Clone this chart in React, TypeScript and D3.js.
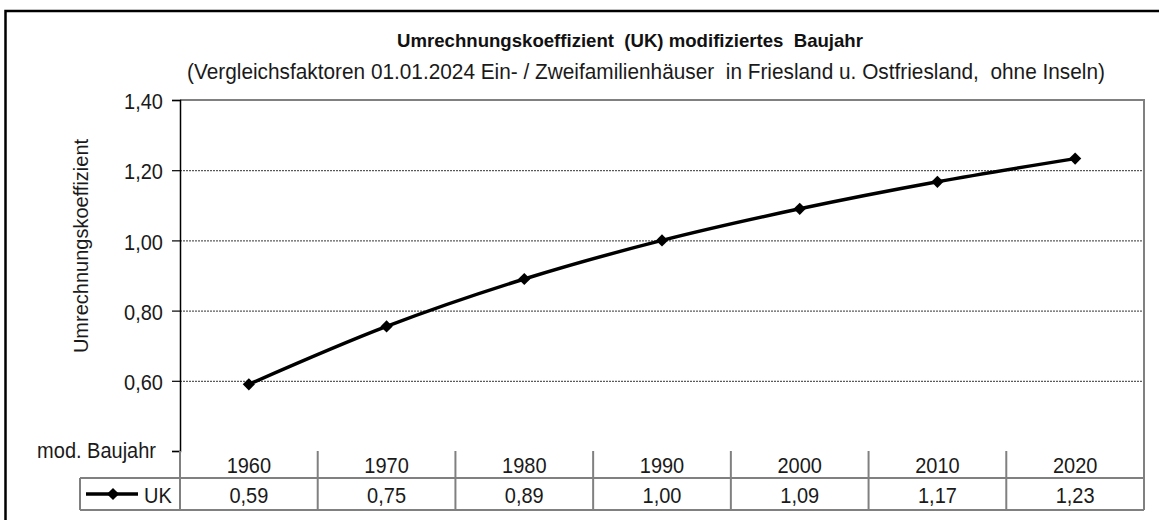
import React, { useEffect, useRef } from "react";
import * as d3 from "d3";

const years = ["1960", "1970", "1980", "1990", "2000", "2010", "2020"];
const ukValues = [0.59, 0.755, 0.89, 1.0, 1.09, 1.167, 1.233];
const ukLabels = ["0,59", "0,75", "0,89", "1,00", "1,09", "1,17", "1,23"];
const yTicks = [0.6, 0.8, 1.0, 1.2, 1.4];

const title = "Umrechnungskoeffizient  (UK) modifiziertes  Baujahr";
const subtitle =
  "(Vergleichsfaktoren 01.01.2024 Ein- / Zweifamilienhäuser  in Friesland u. Ostfriesland,  ohne Inseln)";

const App = () => {
  const ref = useRef<SVGSVGElement>(null);

  useEffect(() => {
    const width = 1159;
    const height = 520;
    const margin = { top: 100, right: 15, bottom: 69, left: 180 };
    const rowH = [27, 32];
    const font = "'Liberation Sans', Arial, sans-serif";
    const grey = "#808080";
    const ink = "#1a1a1a";
    const fs = 20;
    const stretch = 1.09;

    const svg = d3.select(ref.current);
    svg.selectAll("*").remove();

    svg.append("rect")
      .attr("width", width)
      .attr("height", height)
      .attr("fill", "#fff");

    // outer frame
    svg.append("rect")
      .attr("x", 5.5)
      .attr("y", 11)
      .attr("width", width + 10)
      .attr("height", height + 10)
      .attr("fill", "none")
      .attr("stroke", "#000")
      .attr("stroke-width", 2.5);

    const x = d3
      .scaleBand()
      .domain(years)
      .range([margin.left, width - margin.right]);

    const y = d3
      .scaleLinear()
      .domain([0.4, 1.4])
      .range([height - margin.bottom, margin.top]);

    // titles
    svg.append("text")
      .attr("x", 630)
      .attr("y", 47)
      .attr("text-anchor", "middle")
      .attr("font-family", font)
      .attr("font-size", 18.6)
      .attr("font-weight", "bold")
      .attr("fill", "#111")
      .style("white-space", "pre")
      .text(title);

    svg.append("text")
      .attr("transform", `translate(646,79) scale(1,1.03)`)
      .attr("text-anchor", "middle")
      .attr("font-family", font)
      .attr("font-size", 20.8)
      .attr("fill", ink)
      .style("white-space", "pre")
      .text(subtitle);

    // grid lines
    svg.append("g")
      .selectAll("line")
      .data(yTicks.filter((d) => d < 1.4))
      .join("line")
      .attr("x1", margin.left)
      .attr("x2", width - margin.right)
      .attr("y1", (d) => y(d) + 0.5)
      .attr("y2", (d) => y(d) + 0.5)
      .attr("stroke", "#333")
      .attr("stroke-dasharray", "2,1");

    // plot frame top / right
    svg.append("path")
      .attr(
        "d",
        `M${margin.left},${y(1.4)}H${width - margin.right}V${y(0.4)}`
      )
      .attr("fill", "none")
      .attr("stroke", grey)
      .attr("stroke-width", 2);

    // y axis
    const yAxis = svg.append("g")
      .attr("transform", `translate(${margin.left},0)`)
      .call(
        d3.axisLeft(y)
          .tickValues([0.4, ...yTicks])
          .tickSize(8)
          .tickPadding(9)
          .tickFormat((d) =>
            +d === 0.4 ? "mod. Baujahr" : d3.format(".2f")(+d).replace(".", ",")
          )
      );
    yAxis.select(".domain").attr("stroke", "#000").attr("stroke-width", 1.5);
    yAxis.selectAll(".tick line").attr("stroke", "#000").attr("stroke-width", 1.2);
    yAxis.selectAll<SVGTextElement, number>("text")
      .attr("font-family", font)
      .attr("font-size", fs)
      .attr("dy", (d) => (d === 0.4 ? "0.3em" : "0.4em"))
      .attr("x", (d) => (d === 0.4 ? -24 : -17))
      .attr("transform", `scale(1,${stretch})`)
      .attr("fill", ink);

    svg.append("text")
      .attr("transform", `translate(88,246) rotate(-90)`)
      .attr("text-anchor", "middle")
      .attr("font-family", font)
      .attr("font-size", 20)
      .attr("fill", ink)
      .text("Umrechnungskoeffizient");

    // data table
    const t0 = y(0.4);
    const t1 = t0 + rowH[0];
    const t2 = t1 + rowH[1];
    const table = svg.append("g")
      .attr("fill", "none")
      .attr("stroke", grey)
      .attr("stroke-width", 2);
    table.append("path").attr(
      "d",
      `M80,${t1}H${width - margin.right}M80,${t2}H${width - margin.right}M80,${t1}V${t2}`
    );
    table.selectAll("line")
      .data([...years.map((d) => x(d)!), width - margin.right])
      .join("line")
      .attr("x1", (d) => d)
      .attr("x2", (d) => d)
      .attr("y1", t0)
      .attr("y2", t2);

    svg.append("g")
      .selectAll("text")
      .data(years)
      .join("text")
      .attr(
        "transform",
        (d) => `translate(${x(d)! + x.bandwidth() / 2},${t0 + 21.5}) scale(1,${stretch})`
      )
      .attr("text-anchor", "middle")
      .attr("font-family", font)
      .attr("font-size", fs)
      .attr("fill", ink)
      .text((d) => d);

    svg.append("g")
      .selectAll("text")
      .data(ukLabels)
      .join("text")
      .attr(
        "transform",
        (d, i) =>
          `translate(${x(years[i])! + x.bandwidth() / 2},${t1 + 25}) scale(1,${stretch})`
      )
      .attr("text-anchor", "middle")
      .attr("font-family", font)
      .attr("font-size", fs)
      .attr("fill", ink)
      .text((d) => d);

    // legend key
    const symbol = d3.symbol().type(d3.symbolDiamond2).size(95);
    const ly = (t1 + t2) / 2;
    svg.append("line")
      .attr("x1", 86)
      .attr("x2", 138)
      .attr("y1", ly)
      .attr("y2", ly)
      .attr("stroke", "#000")
      .attr("stroke-width", 3.5);
    svg.append("path")
      .attr("d", symbol()!)
      .attr("transform", `translate(113,${ly})`)
      .attr("fill", "#000");
    svg.append("text")
      .attr("transform", `translate(144,${t1 + 25}) scale(1,${stretch})`)
      .attr("font-family", font)
      .attr("font-size", fs)
      .attr("fill", ink)
      .text("UK");

    // series
    const line = d3
      .line<number>()
      .x((d, i) => x(years[i])! + x.bandwidth() / 2)
      .y((d) => y(d))
      .curve(d3.curveMonotoneX);

    svg.append("path")
      .datum(ukValues)
      .attr("d", line)
      .attr("fill", "none")
      .attr("stroke", "#000")
      .attr("stroke-width", 3.5);

    svg.append("g")
      .selectAll("path")
      .data(ukValues)
      .join("path")
      .attr("d", symbol()!)
      .attr(
        "transform",
        (d, i) => `translate(${x(years[i])! + x.bandwidth() / 2},${y(d)})`
      )
      .attr("fill", "#000");
  }, []);

  return (
    <svg
      ref={ref}
      width={1159}
      height={520}
      style={{ position: "absolute", left: 0, top: 0 }}
    />
  );
};

export default App;
